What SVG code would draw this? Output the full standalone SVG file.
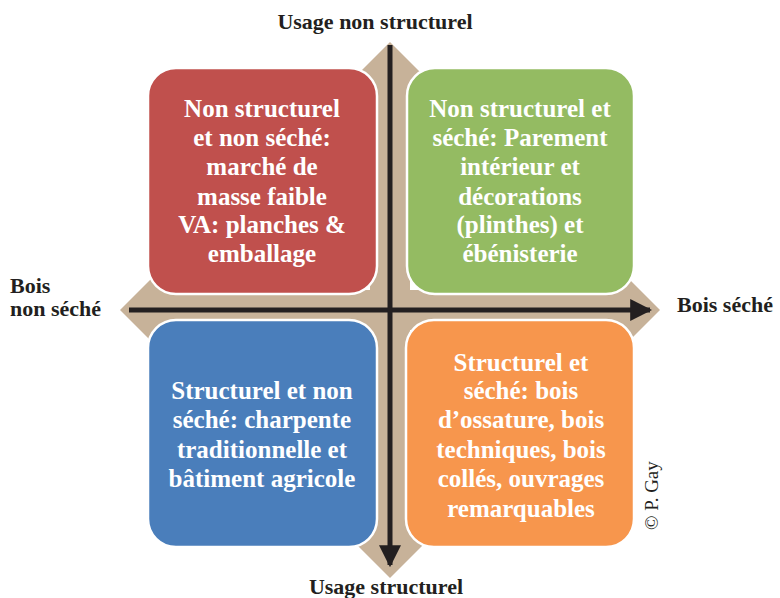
<svg xmlns="http://www.w3.org/2000/svg" width="780" height="598" viewBox="0 0 780 598">
<style>
.box{stroke:#ffffff;stroke-width:2.5}
.bt{font-family:"Liberation Serif","Times New Roman",serif;font-weight:bold;font-size:25px;fill:#ffffff;text-anchor:middle}
.lb{font-family:"Liberation Serif","Times New Roman",serif;font-weight:bold;font-size:22px;fill:#231f20}
.ax{stroke:#231f20;stroke-width:5;fill:none}
</style>
<defs>
<marker id="ah" viewBox="0 0 10 10" refX="9" refY="5" markerWidth="4.4" markerHeight="4.4" markerUnits="strokeWidth" orient="auto">
<path d="M0,0 L10,5 L0,10 Z" fill="#231f20"/>
</marker>
</defs>
<g id="background">
<polygon fill="#c7b299" points="120,310 170,260 170,290 610,290 610,260 660,310 610,360 610,330 170,330 170,360"/>
<polygon fill="#c7b299" points="390,42 440,92 410,92 410,528 440,528 390,578 340,528 370,528 370,92 340,92"/>
</g>
<g id="connectors">
<line class="ax" x1="129" y1="310" x2="650" y2="310" marker-end="url(#ah)"/>
<line class="ax" x1="390" y1="45" x2="390" y2="565" marker-end="url(#ah)"/>
</g>
<g id="node-red">
<rect class="box" x="148" y="68" width="229" height="226" rx="28" fill="#c0504d"/>
<text class="bt"><tspan x="262" y="117">Non structurel</tspan><tspan x="262" y="146">et non séché:</tspan><tspan x="262" y="175">marché de</tspan><tspan x="262" y="205">masse faible</tspan><tspan x="262" y="233">VA: planches &amp;</tspan><tspan x="262" y="262">emballage</tspan></text>
</g>
<g id="node-green">
<rect class="box" x="407" y="68" width="227" height="226" rx="28" fill="#94bb62"/>
<text class="bt"><tspan x="520" y="117">Non structurel et</tspan><tspan x="520" y="146">séché: Parement</tspan><tspan x="520" y="175">intérieur et</tspan><tspan x="520" y="205">décorations</tspan><tspan x="520" y="233">(plinthes) et</tspan><tspan x="520" y="262">ébénisterie</tspan></text>
</g>
<g id="node-blue">
<rect class="box" x="148" y="320" width="229" height="227" rx="28" fill="#4a7ebb"/>
<text class="bt"><tspan x="262" y="399">Structurel et non</tspan><tspan x="262" y="428">séché: charpente</tspan><tspan x="262" y="458">traditionnelle et</tspan><tspan x="262" y="487">bâtiment agricole</tspan></text>
</g>
<g id="node-orange">
<rect class="box" x="406" y="320" width="228" height="227" rx="28" fill="#f7964d"/>
<text class="bt"><tspan x="521" y="371">Structurel et</tspan><tspan x="521" y="399">séché: bois</tspan><tspan x="521" y="428">d’ossature, bois</tspan><tspan x="521" y="458">techniques, bois</tspan><tspan x="521" y="487">collés, ouvrages</tspan><tspan x="521" y="517">remarquables</tspan></text>
</g>
<g id="labels">
<text class="lb" x="375" y="29" text-anchor="middle">Usage non structurel</text>
<text class="lb" x="386" y="594" text-anchor="middle">Usage structurel</text>
<text class="lb" x="10" y="293">Bois</text>
<text class="lb" x="10" y="316">non séché</text>
<text class="lb" x="677" y="312">Bois séché</text>
<text x="0" y="0" transform="translate(658,530) rotate(-90)" font-family="Liberation Serif, Times New Roman, serif" font-size="19" fill="#231f20">© P. Gay</text>
</g>
</svg>
